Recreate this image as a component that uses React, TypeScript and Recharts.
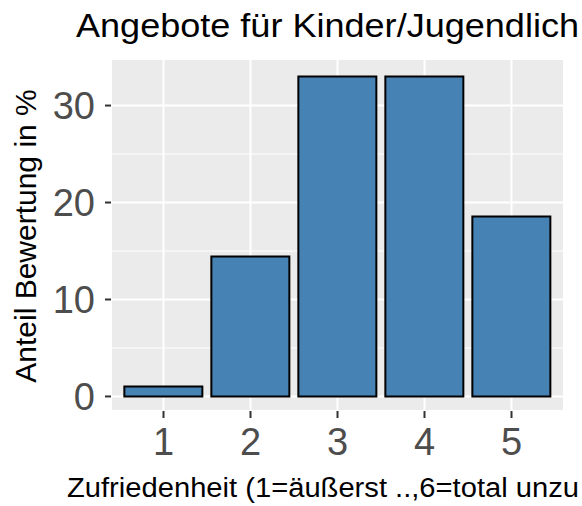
import { BarChart, Bar, XAxis, YAxis, CartesianGrid } from 'recharts';

const categories = ['1', '2', '3', '4', '5'];
const shares = [1.03, 14.43, 32.99, 32.99, 18.56];
const majorTicks = [0, 10, 20, 30];
const minorTicks = [5, 15, 25];

// the reference cuts both titles off at its right edge; keep the visible part
const title = 'Angebote für Kinder/Jugendlich';
const xTitle = 'Zufriedenheit (1=äußerst ..,6=total unzu';
const yTitle = 'Anteil Bewertung in %';

const data = categories.map((c, i) => ({ rating: c, share: shares[i] }));

const FONT = '"Liberation Sans", Arial, sans-serif';
const DOMAIN: [number, number] = [-1.5, 34.8];

const App = () => {
  return (
    <div style={{ position: 'absolute', left: 0, top: 0, width: 582, height: 506, background: '#fff', fontFamily: FONT }}>
      <BarChart
        width={582}
        height={506}
        data={data}
        margin={{ top: 59, right: 18, bottom: 0, left: 0 }}
        barCategoryGap="5%"
      >
        <CartesianGrid fill="#EBEBEB" stroke="#fff" strokeWidth={1} vertical={false} yAxisId="minor" />
        <CartesianGrid fill="none" stroke="#fff" strokeWidth={2} yAxisId="main" />
        <XAxis
          dataKey="rating"
          height={95}
          padding={{ left: 9, right: 9 }}
          axisLine={false}
          tickSize={7}
          tickMargin={10}
          tickLine={{ stroke: '#333333', strokeWidth: 2 }}
          tick={{ fill: '#4D4D4D', fontSize: 38, fontFamily: FONT }}
        />
        <YAxis
          yAxisId="main"
          type="number"
          domain={DOMAIN}
          allowDataOverflow
          ticks={majorTicks}
          width={111}
          axisLine={false}
          tickSize={6}
          tickMargin={10}
          tickLine={{ stroke: '#333333', strokeWidth: 2 }}
          tick={{ fill: '#4D4D4D', fontSize: 38, fontFamily: FONT }}
        />
        <YAxis yAxisId="minor" type="number" domain={DOMAIN} allowDataOverflow ticks={minorTicks} hide />
        <Bar
          yAxisId="main"
          dataKey="share"
          fill="#4682B4"
          stroke="#000"
          strokeWidth={2}
          isAnimationActive={false}
        />
      </BarChart>
      <svg
        width={582}
        height={506}
        style={{ position: 'absolute', left: 0, top: 0, pointerEvents: 'none' }}
      >
        <text x={76} y={37} fontSize={34} fontFamily={FONT} fill="#000" textLength={503} lengthAdjust="spacingAndGlyphs">
          {title}
        </text>
        <text x={67} y={497} fontSize={27} fontFamily={FONT} fill="#000" textLength={512} lengthAdjust="spacingAndGlyphs">
          {xTitle}
        </text>
        <text
          x={0}
          y={0}
          transform="translate(36 236) rotate(-90)"
          textAnchor="middle"
          fontSize={30}
          fontFamily={FONT}
          fill="#000"
        >
          {yTitle}
        </text>
      </svg>
    </div>
  );
};

export default App;
